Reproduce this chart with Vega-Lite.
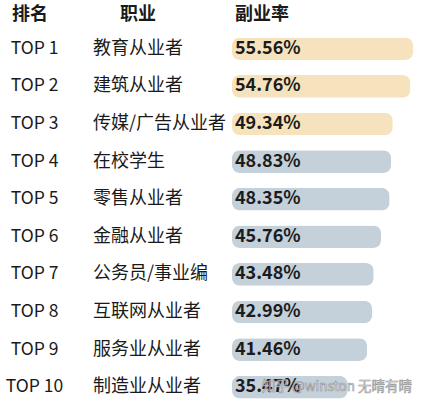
{
  "$schema": "https://vega.github.io/schema/vega-lite/v6.json",
  "padding": {"top": 6, "left": 0, "right": 0, "bottom": 0},
  "spacing": 0,
  "bounds": "flush",
  "background": "white",
  "config": {
    "view": {"stroke": null},
    "font": "Noto Sans CJK SC",
    "title": {"fontSize": 18, "fontWeight": "bold", "color": "#1a1a1a", "font": "Noto Sans CJK SC", "anchor": "start", "offset": 6}
  },
  "datasets": {
    "jobs": [
      {"rank": "TOP 1", "job": "教育从业者", "rate": 0.5556, "group": "top3"},
      {"rank": "TOP 2", "job": "建筑从业者", "rate": 0.5476, "group": "top3"},
      {"rank": "TOP 3", "job": "传媒/广告从业者", "rate": 0.4934, "group": "top3"},
      {"rank": "TOP 4", "job": "在校学生", "rate": 0.4883, "group": "other"},
      {"rank": "TOP 5", "job": "零售从业者", "rate": 0.4835, "group": "other"},
      {"rank": "TOP 6", "job": "金融从业者", "rate": 0.4576, "group": "other"},
      {"rank": "TOP 7", "job": "公务员/事业编", "rate": 0.4348, "group": "other"},
      {"rank": "TOP 8", "job": "互联网从业者", "rate": 0.4299, "group": "other"},
      {"rank": "TOP 9", "job": "服务业从业者", "rate": 0.4146, "group": "other"},
      {"rank": "TOP 10", "job": "制造业从业者", "rate": 0.3547, "group": "other"}
    ],
    "mark": [
      {"rank": "TOP 10", "note": "知乎 @winston 无晴有晴"}
    ]
  },
  "hconcat": [
    {
      "width": 93,
      "height": 376,
      "title": {"text": "排名", "dx": 12},
      "data": {"name": "jobs"},
      "mark": {"type": "text", "fontSize": 17.5, "dx": -12, "color": "#1a1a1a", "font": "Noto Sans CJK SC"},
      "encoding": {
        "y": {"field": "rank", "type": "ordinal", "sort": null, "axis": null, "scale": {"type": "band", "paddingInner": 0, "paddingOuter": 0}},
        "text": {"field": "rank"}
      }
    },
    {
      "width": 139,
      "height": 376,
      "title": {"text": "职业", "dx": 27},
      "data": {"name": "jobs"},
      "mark": {"type": "text", "fontSize": 18, "align": "left", "color": "#1a1a1a", "font": "Noto Sans CJK SC"},
      "encoding": {
        "x": {"value": 0},
        "y": {"field": "rank", "type": "ordinal", "sort": null, "axis": null, "scale": {"type": "band", "paddingInner": 0, "paddingOuter": 0}},
        "text": {"field": "job"}
      }
    },
    {
      "width": 189,
      "height": 376,
      "title": {"text": "副业率", "dx": 3},
      "layer": [
        {
          "data": {"name": "jobs"},
          "mark": {"type": "bar", "height": {"band": 0.6}, "cornerRadius": 8},
          "encoding": {
            "x": {"field": "rate", "type": "quantitative", "axis": null, "scale": {"domain": [0, 0.58], "zero": true, "nice": false}},
            "y": {"field": "rank", "type": "ordinal", "sort": null, "axis": null, "scale": {"type": "band", "paddingInner": 0, "paddingOuter": 0}},
            "color": {"field": "group", "type": "nominal", "legend": null, "scale": {"domain": ["top3", "other"], "range": ["#f6e3bd", "#c4d0da"]}}
          }
        },
        {
          "data": {"name": "jobs"},
          "mark": {"type": "text", "align": "left", "dx": 3, "fontSize": 18, "fontWeight": "bold", "color": "#1c1c1c", "font": "Noto Sans CJK SC"},
          "encoding": {
            "x": {"datum": 0, "type": "quantitative"},
            "y": {"field": "rank", "type": "ordinal", "sort": null},
            "text": {"field": "rate", "type": "quantitative", "format": ".2%"}
          }
        },
        {
          "data": {"name": "mark"},
          "mark": {"type": "text", "align": "left", "fontSize": 13.5, "color": "#f2f2f2", "opacity": 0.9, "stroke": "#8a8a8a", "strokeWidth": 0.6, "font": "Noto Sans CJK SC"},
          "encoding": {
            "x": {"datum": 0.092, "type": "quantitative"},
            "y": {"field": "rank", "type": "ordinal", "sort": null},
            "text": {"field": "note"}
          }
        }
      ]
    }
  ]
}
